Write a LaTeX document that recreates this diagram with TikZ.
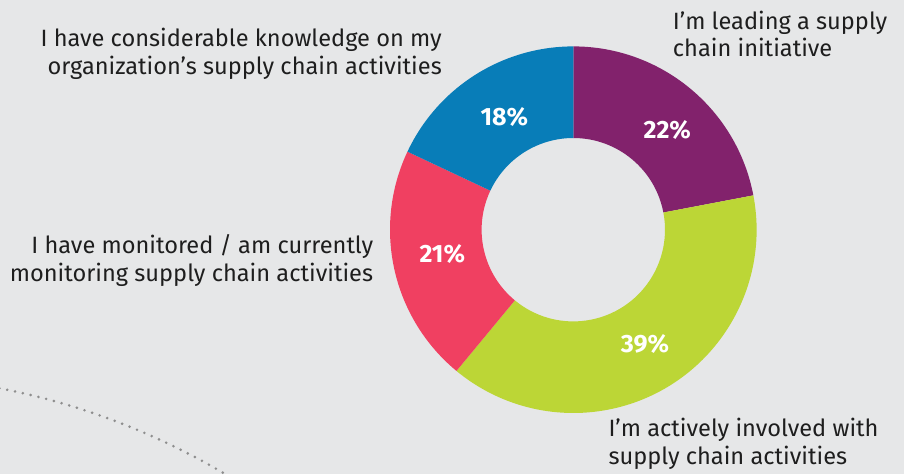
\documentclass[tikz,border=0pt]{standalone}
\usepackage{fontspec}
\setmainfont{Fira Sans}
\usetikzlibrary{calc}
\definecolor{bg}{HTML}{E6E7E8}
\definecolor{cpurple}{HTML}{82226C}
\definecolor{cgreen}{HTML}{BCD636}
\definecolor{cred}{HTML}{F04061}
\definecolor{cblue}{HTML}{087DB8}
\definecolor{ctext}{HTML}{1E1E1E}
\definecolor{cdots}{HTML}{8E8E8E}
\tikzset{
  lbl/.style={inner sep=0pt, text=ctext, font=\fontsize{23.6}{27.3}\selectfont},
  pct/.style={inner sep=0pt, text=white, font=\fontsize{25}{27}\selectfont\bfseries},
}
\newcommand{\seg}[3]{%
  \fill[#1] ($(c)+(#2:183.3)$) arc[start angle=#2, end angle=#3, radius=183.3]
    -- ($(c)+(#3:91.7)$) arc[start angle=#3, end angle=#2, radius=91.7] -- cycle;}
\begin{document}
\begin{tikzpicture}[x=1pt,y=1pt]
\useasboundingbox (0,0) rectangle (904,-474);
\fill[bg] (0,0) rectangle (904,-474);
\coordinate (c) at (573.3,-229.7);
\coordinate (dc) at (-133.7,-1078.3);
\begin{scope}
\clip (0,0) rectangle (904,-474);
\draw[cdots, line width=2.9pt, line cap=round, dash pattern=on 0pt off 8pt]
  ($(dc)+(83:702.8)$) arc[start angle=83, end angle=55, radius=702.8];
\end{scope}
\seg{cpurple}{90}{10.8}
\seg{cgreen}{10.8}{-129.6}
\seg{cred}{-129.6}{-205.2}
\seg{cblue}{-205.2}{-270}
\node[pct] (p18) at (504.3,-116.7) {18\%};
\node[pct] (p22) at (667.3,-130) {22\%};
\node[pct] (p21) at (442.3,-254) {21\%};
\node[pct] (p39) at (645,-344.3) {39\%};
\node[lbl, align=right, anchor=base east] (l1) at (442,-74) {I have considerable knowledge on my\\organization’s supply chain activities};
\node[lbl, align=left, anchor=base west] (l2) at (672.7,-56.7) {I’m leading a supply\\chain initiative};
\node[lbl, align=right, anchor=base east] (l3) at (373.3,-281) {I have monitored / am currently\\monitoring supply chain activities};
\node[lbl, align=left, anchor=base west] (l4) at (608.3,-464) {I’m actively involved with\\supply chain activities};
\end{tikzpicture}
\end{document}
